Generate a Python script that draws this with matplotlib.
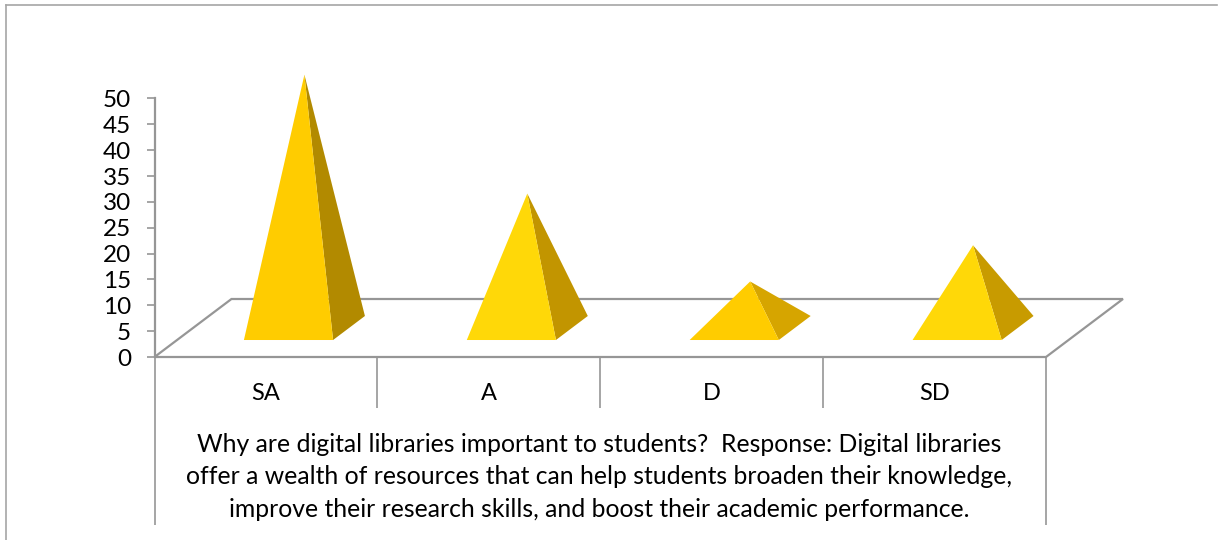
"""
3D-look pyramid chart: why digital libraries matter to students.
"""

import matplotlib
matplotlib.use('Agg')
import matplotlib.pyplot as plt
from matplotlib.lines import Line2D
from matplotlib.patches import Polygon

plt.rcParams['font.family'] = 'Lato'

categories = ['SA', 'A', 'D', 'SD']
values = [49, 26, 9, 16]
front_colors = ['#FFCC00', '#FFD808', '#FFCC00', '#FFD808']
side_colors = ['#B28A00', '#C29500', '#D6A500', '#C89B00']
y_ticks = list(range(0, 55, 5))
caption = ('Why are digital libraries important to students?  Response: Digital libraries\n'
           'offer a wealth of resources that can help students broaden their knowledge,\n'
           'improve their research skills, and boost their academic performance.')

W, H = 1221, 540
line_gray = '#969696'

fig = plt.figure(figsize=(W / 100, H / 100), dpi=100)
ax = fig.add_axes([154.5 / W, (H - 357) / H, 891.5 / W, 258.5 / H])
ax.set_xlim(0, 4)
ax.set_ylim(0, 50)
ax.patch.set_alpha(0)

# oblique projection: depth 1 moves the point right and up
depth_x = 77 / 223
depth_y = 58 / 5.17


def project(x, depth, height=0):
    return x + depth * depth_x, height + depth * depth_y


# floor
floor = [project(0, 0), project(4, 0), project(4, 1), project(0, 1)]
ax.add_patch(Polygon(floor, closed=True, facecolor='white', edgecolor=line_gray,
                     linewidth=1.6, clip_on=False, zorder=1))

# pyramids
half_width = 0.2
d_front, d_back = 0.293, 0.707
for i, val in enumerate(values):
    cx = i + 0.5
    left = project(cx - half_width, d_front)
    right = project(cx + half_width, d_front)
    back = project(cx + half_width, d_back)
    apex = project(cx, 0.5, val)
    ax.add_patch(Polygon([right, back, apex], closed=True, facecolor=side_colors[i],
                         edgecolor='none', clip_on=False, zorder=3))
    ax.add_patch(Polygon([left, right, apex], closed=True, facecolor=front_colors[i],
                         edgecolor='none', clip_on=False, zorder=4))

# value axis
for side in ['top', 'right', 'bottom']:
    ax.spines[side].set_visible(False)
ax.spines['left'].set_color(line_gray)
ax.spines['left'].set_linewidth(1.6)
ax.set_yticks(y_ticks)
ax.tick_params(axis='y', length=6, width=1.2, color=line_gray, pad=11, labelsize=17.5)

# category dividers hang below the floor, outer ones reach past the caption
ax.set_xticks([0, 4])
ax.set_xticks([1, 2, 3], minor=True)
ax.tick_params(axis='x', which='major', length=168 * 0.72, width=1.2, color=line_gray, labelbottom=False)
ax.tick_params(axis='x', which='minor', length=51 * 0.72, width=1.2, color=line_gray, labelbottom=False)

trans = ax.get_xaxis_transform()
for i, cat in enumerate(categories):
    ax.annotate(cat, (i + 0.5, 0), xycoords=trans, xytext=(0, -26.5), textcoords='offset points',
                ha='center', va='center', fontsize=17, color='black')

fig.text(599 / W, 1 - 477 / H, caption, ha='center', va='center', fontsize=17.8,
         linespacing=1.48, color='black')

# outer frame, only top and left are visible
frame_color = '#A6A6A6'
fig.add_artist(Line2D([6 / W, 6 / W], [0, 1 - 5 / H], color=frame_color, linewidth=1.2))
fig.add_artist(Line2D([6 / W, 1217 / W], [1 - 5 / H, 1 - 5 / H], color=frame_color, linewidth=1.2))

fig.savefig('out.png', dpi=100)
